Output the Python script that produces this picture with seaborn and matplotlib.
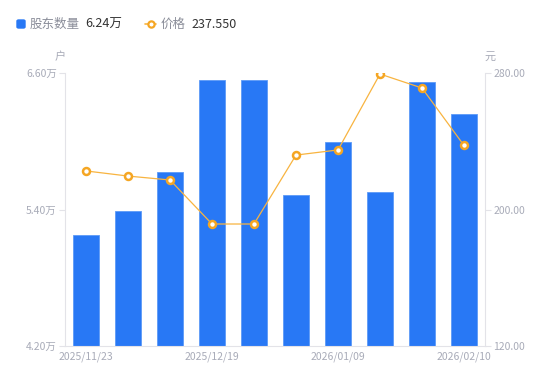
import matplotlib
matplotlib.use("Agg")
import matplotlib.pyplot as plt
import seaborn as sns
import pandas as pd
from matplotlib.lines import Line2D
from matplotlib.patches import FancyBboxPatch

# === data ===
dates = ["2025/11/23", "2025/11/30", "2025/12/10", "2025/12/19", "2025/12/31",
         "2026/01/05", "2026/01/09", "2026/01/20", "2026/01/31", "2026/02/10"]
holders = [5.18, 5.39, 5.73, 6.54, 6.54, 5.53, 5.99, 5.55, 6.52, 6.24]   # 万户
prices = [222.6, 219.6, 217.3, 191.5, 191.5, 231.9, 234.9, 279.4, 271.2, 237.55]
shown_ticks = ["2025/11/23", "2025/12/19", "2026/01/09", "2026/02/10"]
left_ticks = [4.20, 5.40, 6.60]
right_ticks = [120, 200, 280]

BAR_COLOR = "#2878f5"
LINE_COLOR = "#f8b440"
MARKER_COLOR = "#f5a623"
TICK_COLOR = "#a8abb8"
AXIS_COLOR = "#e3e3e8"
TEXT_DARK = "#333333"

sns.set_style("white")
plt.rcParams["font.family"] = ["Noto Sans CJK SC", "DejaVu Sans"]

df = pd.DataFrame({"date": dates, "holders": holders, "price": prices})

fig = plt.figure(figsize=(5.5, 3.81), dpi=100)
ax = fig.add_axes([65 / 550, 1 - 346 / 381, 420 / 550, 273 / 381])

# === bars: shareholder count ===
sns.barplot(data=df, x="date", y="holders", color=BAR_COLOR, width=0.6,
            edgecolor="#5d9af7", linewidth=0.6, saturation=1, ax=ax)
ax.set_ylim(4.20, 6.60)
ax.set_xlim(-0.5, len(dates) - 0.5)
ax.set_yticks(left_ticks)
ax.set_yticklabels([f"{v:.2f}万" for v in left_ticks])

# === line: price on twin axis ===
ax2 = ax.twinx()
sns.lineplot(data=df, x="date", y="price", sort=False, color=LINE_COLOR,
             linewidth=0.9, marker="o", markersize=5, markerfacecolor="white",
             markeredgecolor=MARKER_COLOR, markeredgewidth=1.8, ax=ax2)
ax2.set_ylim(120, 280)
ax2.set_yticks(right_ticks)
ax2.set_yticklabels([f"{v:.2f}" for v in right_ticks])

ax.set_xticks([dates.index(d) for d in shown_ticks])
ax.set_xticklabels(shown_ticks)

for a in (ax, ax2):
    a.set_xlabel("")
    a.set_ylabel("")
    a.spines["top"].set_visible(False)
    for side in ("left", "right", "bottom"):
        a.spines[side].set_color(AXIS_COLOR)
        a.spines[side].set_linewidth(0.8)
    a.tick_params(axis="y", colors=AXIS_COLOR, labelcolor=TICK_COLOR,
                  labelsize=7.5, length=4, width=0.8, pad=2)
ax.tick_params(axis="x", length=0, labelcolor=TICK_COLOR, labelsize=7.5, pad=4)
ax.spines["right"].set_visible(False)
ax2.spines["left"].set_visible(False)
ax2.spines["bottom"].set_visible(False)

# unit labels
fig.text(60 / 550, 1 - 57 / 381, "户", ha="center", va="center", fontsize=8, color=TICK_COLOR)
fig.text(490 / 550, 1 - 57 / 381, "元", ha="center", va="center", fontsize=8, color=TICK_COLOR)

# === legend drawn by hand ===
ly = 1 - 24 / 381
fig.patches.append(FancyBboxPatch((17 / 550, ly - 4 / 381), 8 / 550, 8 / 381,
                                  boxstyle="round,pad=0,rounding_size=0.003",
                                  transform=fig.transFigure, color=BAR_COLOR))
fig.text(30 / 550, ly, "股东数量", ha="left", va="center", fontsize=9, color="#8a8d99")
fig.text(85 / 550, ly, "6.24万", ha="left", va="center", fontsize=9, color=TEXT_DARK)
fig.lines.append(Line2D([145 / 550, 156 / 550], [ly, ly], transform=fig.transFigure,
                        color=LINE_COLOR, linewidth=1.2))
fig.lines.append(Line2D([150.5 / 550], [ly], transform=fig.transFigure, color=MARKER_COLOR,
                        marker="o", markersize=4.5, markerfacecolor="white",
                        markeredgewidth=1.6, linestyle="none"))
fig.text(161 / 550, ly, "价格", ha="left", va="center", fontsize=9, color="#8a8d99")
fig.text(191 / 550, ly, "237.550", ha="left", va="center", fontsize=9, color=TEXT_DARK)

fig.savefig("out.png", dpi=100, facecolor="white")
